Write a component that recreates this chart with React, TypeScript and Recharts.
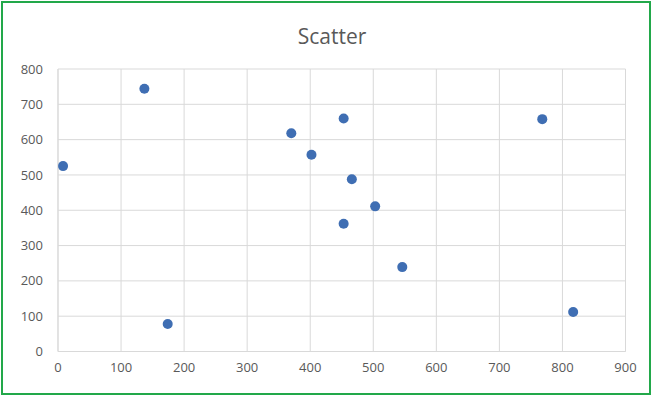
import React from "react";
import { ScatterChart, Scatter, XAxis, YAxis, CartesianGrid } from "recharts";

const xValues = [8, 137, 174, 370, 402, 453, 466, 503, 453, 546, 768, 817];
const yValues = [525, 744, 78, 618, 557, 660, 488, 411, 362, 239, 658, 112];
const xTicks = [0, 100, 200, 300, 400, 500, 600, 700, 800, 900];
const yTicks = [0, 100, 200, 300, 400, 500, 600, 700, 800];
const title = "Scatter";

const data = xValues.map((x, i) => ({ x, y: yValues[i] }));

const FONT = "'Open Sans', 'Noto Sans', sans-serif";
const TEXT = "#595959";
const GRID = "#D9D9D9";

export default function App() {
  return (
    <div style={{ position: "absolute", left: 0, top: 0, width: 652, height: 396, background: "#fff" }}>
      <div
        style={{
          position: "absolute",
          left: 1,
          top: 1,
          width: 650,
          height: 394,
          boxSizing: "border-box",
          border: "2px solid #22A84A",
        }}
      />
      <div
        style={{
          position: "absolute",
          left: 0,
          top: 21,
          width: 664,
          textAlign: "center",
          fontFamily: FONT,
          fontSize: 21,
          lineHeight: "30px",
          color: TEXT,
        }}
      >
        {title}
      </div>
      <div style={{ position: "absolute", left: 0, top: 0 }}>
        <ScatterChart
          width={652}
          height={396}
          margin={{ top: 69, right: 26.5, bottom: 14.5, left: 0 }}
        >
          <CartesianGrid stroke={GRID} strokeWidth={1} />
          <XAxis
            type="number"
            dataKey="x"
            domain={[0, 900]}
            ticks={xTicks}
            interval={0}
            height={30}
            axisLine={{ stroke: GRID }}
            tickLine={false}
            tickSize={0}
            tickMargin={11}
            tick={{ fill: TEXT, fontSize: 13, fontFamily: FONT }}
          />
          <YAxis
            type="number"
            dataKey="y"
            domain={[0, 800]}
            ticks={yTicks}
            interval={0}
            width={58}
            axisLine={{ stroke: GRID }}
            tickLine={false}
            tickSize={0}
            tickMargin={15}
            tick={{ fill: TEXT, fontSize: 13, fontFamily: FONT }}
          />
          <Scatter
            data={data}
            fill="#3F6EB3"
            isAnimationActive={false}
            shape={(props: any) => <circle cx={props.cx} cy={props.cy} r={5} fill="#3F6EB3" />}
          />
        </ScatterChart>
      </div>
    </div>
  );
}
